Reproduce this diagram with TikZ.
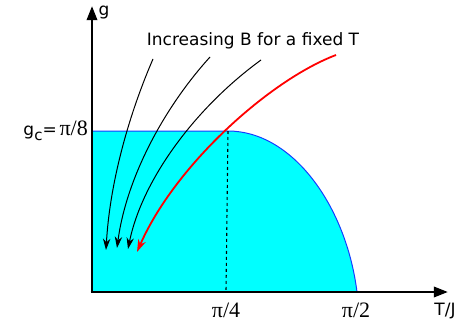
\documentclass[tikz,border=0pt]{standalone}
\usepackage{fontspec}
\setmainfont{DejaVu Sans}
\newfontfamily\pifont{Liberation Serif}
\usetikzlibrary{arrows.meta,positioning}
\definecolor{phase}{RGB}{0,255,255}
\definecolor{edge}{RGB}{20,60,255}
\newcommand\pilab[1]{{\pifont\fontsize{22}{24}\selectfont π/#1}}

\begin{document}
\begin{tikzpicture}[x=1pt, y=-1pt,
  font=\fontsize{17}{20}\selectfont,
  axis/.style={line width=2.8pt, -{Triangle[length=5mm, width=3.6mm]}},
  flow/.style={line width=1pt, -{Stealth[length=4mm, width=2.6mm]}},
  hot/.style ={red, line width=1.8pt, -{Stealth[length=4.4mm, width=2.8mm]}},
  lab/.style ={inner sep=1pt}]
\useasboundingbox (0,0) rectangle (471,329);
% corners of the ordered phase
\coordinate (o) at (92,292);
\coordinate (gc) at (92,131);
\coordinate (tc) at (228,131);
\coordinate (tm) at (357,292);
\coordinate (t4) at (226,292);
\fill[phase] (o) -- (gc) -- (tc) .. controls (292,131) and (346,205) .. (tm) -- cycle;
\draw[edge, line width=1pt] (gc) -- (tc) .. controls (292,131) and (346,205) .. (tm);
\draw[dashed, line width=1.1pt] (tc) -- (t4);
% axes
\coordinate (ytip) at (92,6);
\coordinate (xtip) at (448,292);
\draw[axis] (o) -- (ytip);
\draw[axis] ([xshift=-1.4pt]o) -- (xtip);
\node[lab] (g) at (104,13) {g};
\node[lab, anchor=east] (gcl) at (89,131)
  {g\raisebox{-5pt}{\fontsize{15}{15}\selectfont c}=\,\pilab{8}};
\node[lab] (p4) at (226,310) {\pilab{4}};
\node[lab] (p2) at (356,310) {\pilab{2}};
\node[lab] (tj) at (445,311) {T/J};
\node[lab] (inc) at (253,41) {Increasing B for a fixed T};
% field sweeps
\coordinate (s1) at (153,59);  \coordinate (e1) at (106,250);
\coordinate (s2) at (210,57);  \coordinate (e2) at (117,248);
\coordinate (s3) at (261,60);  \coordinate (e3) at (128,249);
\coordinate (s4) at (336,55);  \coordinate (e4) at (137,252);
\draw[flow] (s1) .. controls (130,112) and (110,180) .. (e1);
\draw[flow] (s2) .. controls (162,110) and (126,180) .. (e2);
\draw[flow] (s3) .. controls (195,108) and (142,180) .. (e3);
\draw[hot] (s4) .. controls (270,80) and (175,165) .. (e4);
\end{tikzpicture}
\end{document}
